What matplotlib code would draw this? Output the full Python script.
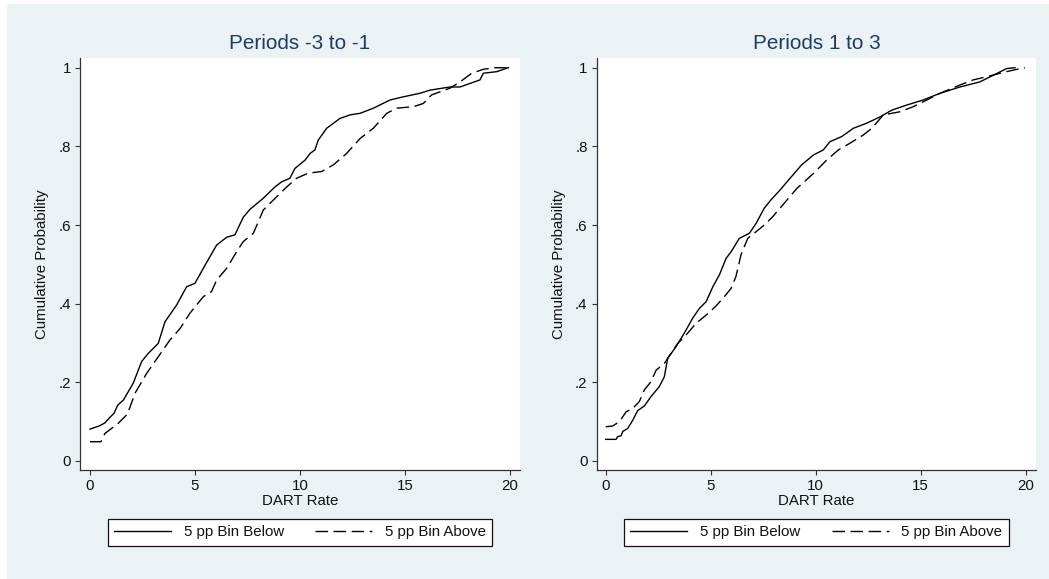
import matplotlib
matplotlib.use("Agg")
import matplotlib.pyplot as plt
from matplotlib.patches import Rectangle

plt.rcParams['font.family'] = ['Liberation Sans', 'DejaVu Sans']
plt.rcParams['lines.scale_dashes'] = False

# ---------------- data ----------------
titles = ["Periods -3 to -1", "Periods 1 to 3"]
series_labels = ["5 pp Bin Below", "5 pp Bin Above"]
xlabel = "DART Rate"
ylabel = "Cumulative Probability"
xticks = [0, 5, 10, 15, 20]
yticks = [0, 0.2, 0.4, 0.6, 0.8, 1.0]
ytick_labels = ["0", ".2", ".4", ".6", ".8", "1"]

# Panel 1: Periods -3 to -1
p1_below_x = [0.0, 0.48, 0.71, 0.95, 1.14, 1.32, 1.59, 2.06, 2.46, 2.78, 3.25, 3.57,
              4.13, 4.60, 5.00, 5.48, 6.03, 6.51, 6.90, 7.30, 7.62, 8.25, 8.81, 9.13,
              9.52, 9.76, 10.24, 10.48, 10.71, 10.87, 11.27, 11.90, 12.38, 12.86,
              13.49, 14.29, 14.92, 15.71, 16.19, 17.14, 17.62, 18.57, 18.73, 19.37, 19.92]
p1_below_y = [0.081, 0.090, 0.097, 0.111, 0.121, 0.142, 0.155, 0.198, 0.253, 0.274,
              0.299, 0.354, 0.397, 0.443, 0.452, 0.498, 0.549, 0.569, 0.575, 0.620,
              0.640, 0.668, 0.697, 0.710, 0.719, 0.744, 0.765, 0.782, 0.791, 0.816,
              0.846, 0.871, 0.880, 0.884, 0.897, 0.918, 0.926, 0.935, 0.943, 0.951,
              0.951, 0.969, 0.986, 0.990, 1.000]
p1_above_x = [0.0, 0.52, 0.71, 1.03, 1.35, 1.59, 1.78, 1.98, 2.14, 2.70, 3.25, 3.81,
              4.29, 4.76, 5.40, 5.79, 6.03, 6.51, 6.98, 7.30, 7.78, 8.25, 8.89, 9.37,
              9.84, 10.40, 11.03, 11.59, 12.22, 12.86, 13.49, 14.13, 14.60, 15.40,
              15.87, 16.27, 17.14, 17.62, 18.18, 18.73, 19.30, 19.95]
p1_above_y = [0.049, 0.049, 0.070, 0.083, 0.096, 0.109, 0.119, 0.148, 0.172, 0.223,
              0.265, 0.308, 0.337, 0.376, 0.418, 0.431, 0.460, 0.490, 0.532, 0.558,
              0.579, 0.638, 0.672, 0.697, 0.719, 0.732, 0.736, 0.753, 0.782, 0.820,
              0.846, 0.884, 0.897, 0.901, 0.909, 0.931, 0.948, 0.964, 0.986, 0.996,
              1.000, 1.000]

# Panel 2: Periods 1 to 3
p2_below_x = [0.0, 0.49, 0.57, 0.73, 0.81, 1.05, 1.29, 1.52, 1.84, 2.16, 2.55, 2.79,
              2.95, 3.35, 3.74, 4.14, 4.46, 4.78, 5.10, 5.41, 5.73, 5.97, 6.36, 6.84,
              7.16, 7.55, 7.87, 8.30, 8.78, 9.33, 9.89, 10.36, 10.68, 11.24, 11.79,
              12.43, 13.06, 13.62, 14.33, 15.12, 15.92, 16.87, 17.82, 18.46, 19.10,
              19.49]
p2_below_y = [0.055, 0.055, 0.062, 0.064, 0.075, 0.083, 0.104, 0.128, 0.140, 0.164,
              0.189, 0.214, 0.261, 0.291, 0.325, 0.363, 0.388, 0.405, 0.443, 0.473,
              0.515, 0.532, 0.566, 0.579, 0.604, 0.643, 0.664, 0.689, 0.719, 0.753,
              0.778, 0.791, 0.812, 0.825, 0.846, 0.859, 0.875, 0.892, 0.905, 0.918,
              0.935, 0.951, 0.964, 0.981, 0.998, 1.000]
p2_above_x = [0.0, 0.33, 0.65, 0.97, 1.29, 1.60, 1.84, 2.16, 2.40, 2.79, 3.11, 3.43,
              3.82, 4.30, 4.78, 5.25, 5.65, 5.97, 6.20, 6.44, 6.76, 7.16, 7.55, 7.95,
              8.43, 9.10, 9.89, 10.52, 11.08, 11.63, 12.27, 12.67, 13.22, 14.01,
              14.65, 15.29, 15.92, 16.87, 17.50, 18.14, 18.78, 19.41, 19.96]
p2_above_y = [0.087, 0.089, 0.100, 0.125, 0.134, 0.151, 0.181, 0.202, 0.231, 0.248,
              0.274, 0.299, 0.320, 0.350, 0.371, 0.394, 0.418, 0.439, 0.469, 0.524,
              0.566, 0.583, 0.600, 0.621, 0.651, 0.693, 0.731, 0.765, 0.791, 0.808,
              0.829, 0.846, 0.880, 0.888, 0.901, 0.918, 0.935, 0.956, 0.969, 0.977,
              0.986, 0.994, 1.000]

panels = [
    (p1_below_x, p1_below_y, p1_above_x, p1_above_y),
    (p2_below_x, p2_below_y, p2_above_x, p2_above_y),
]

# ---------------- layout ----------------
W, H = 1049, 579
fig = plt.figure(figsize=(W / 100, H / 100), dpi=100)
fig.patch.set_facecolor("white")
bg = "#EAF2F3"
fig.add_artist(Rectangle((7 / W, 0), 1 - 7 / W, (H - 4) / H, transform=fig.transFigure,
                         facecolor=bg, edgecolor="none", zorder=0))

navy = "#1C3B66"
axis_col = "#333333"
fs = 10.8

axes_rects = [
    [80 / W, 109 / H, 440 / W, 412 / H],
    [596.7 / W, 109 / H, 439.3 / W, 412 / H],
]
xlims = [(-0.476, 20.476), (-0.43, 20.49)]

for i, (bx, by, ax_x, ax_y) in enumerate(panels):
    ax = fig.add_axes(axes_rects[i])
    ax.set_facecolor("white")
    ax.set_zorder(1)
    l1, = ax.plot(bx, by, color="black", lw=1.0, ls="-", label=series_labels[0])
    l2, = ax.plot(ax_x, ax_y, color="black", lw=1.0, label=series_labels[1])
    l2.set_dashes((9.0, 4.0))
    ax.set_xlim(*xlims[i])
    ax.set_ylim(-0.0229, 1.0247)
    ax.set_xticks(xticks)
    ax.set_xticklabels([str(t) for t in xticks])
    ax.set_yticks(yticks)
    ax.set_yticklabels(ytick_labels)
    for s in ["top", "right"]:
        ax.spines[s].set_visible(False)
    for s in ["left", "bottom"]:
        ax.spines[s].set_color(axis_col)
        ax.spines[s].set_linewidth(0.9)
    ax.tick_params(axis="both", direction="out", length=3.6, width=0.8,
                   color=axis_col, labelsize=fs, labelcolor="#111111", pad=3)
    ax.set_title(titles[i], fontsize=14.9, color=navy, pad=6.5)
    ax.set_xlabel(xlabel, fontsize=fs, color="#111111")
    ax.xaxis.set_label_coords(0.5, (470 - 500.7) / 412)
    ax.xaxis.label.set_va("center")
    ax.set_ylabel(ylabel, fontsize=fs, color="#111111")
    ax.yaxis.set_label_coords((42 - 80) / 440, (470 - 264) / 412)
    ax.yaxis.label.set_va("center")
    leg = ax.legend(handles=[l1, l2], loc="upper center",
                    bbox_to_anchor=(0.5, (470 - 519) / 412), ncol=2,
                    fontsize=fs, frameon=True, fancybox=False, shadow=False,
                    handlelength=3.8, handletextpad=0.85, columnspacing=2.1,
                    borderpad=0.42, borderaxespad=0.0)
    fr = leg.get_frame()
    fr.set_edgecolor("#111111")
    fr.set_linewidth(0.9)
    fr.set_facecolor("white")
    fr.set_alpha(1.0)
    for t in leg.get_texts():
        t.set_color("#111111")

fig.savefig("out.png", dpi=100, facecolor=fig.get_facecolor())
